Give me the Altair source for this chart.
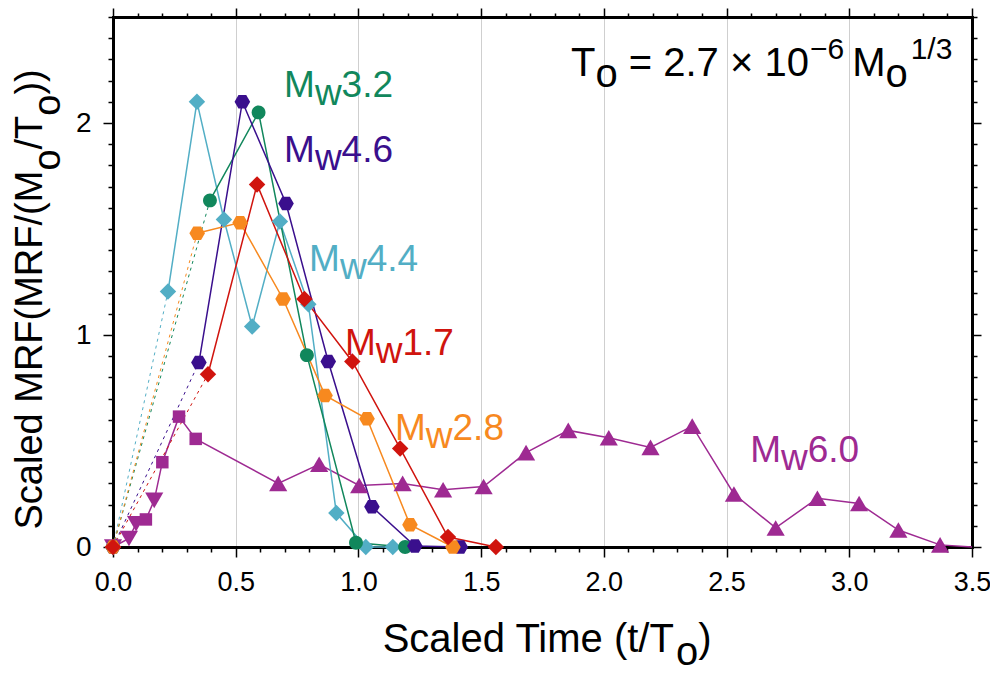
import altair as alt
import pandas as pd

FONT = "Liberation Sans"

# ---------------- data ----------------
series_names = ["Mw6.0", "Mw4.4", "Mw3.2", "Mw4.6", "Mw2.8", "Mw1.7"]
label_numbers = ["6.0", "4.4", "3.2", "4.6", "2.8", "1.7"]
series_colors = ["#9E2A92", "#52AEC5", "#11875C", "#3A0F8D", "#F7891F", "#D0140E"]
dashed_start = ["Mw4.4", "Mw3.2", "Mw4.6", "Mw2.8", "Mw1.7"]

t_mw32 = [0.0, 0.395, 0.593, 0.79, 0.99, 1.19]
v_mw32 = [0.0, 1.635, 2.05, 0.905, 0.02, 0.0]

t_mw46 = [0.0, 0.35, 0.527, 0.705, 0.877, 1.055, 1.23, 1.415]
v_mw46 = [0.0, 0.87, 2.10, 1.62, 0.875, 0.19, 0.005, 0.0]

t_mw44 = [0.0, 0.224, 0.342, 0.452, 0.567, 0.68, 0.796, 0.91, 1.03, 1.14]
v_mw44 = [0.0, 1.205, 2.10, 1.545, 1.04, 1.535, 1.145, 0.16, 0.0, 0.0]

t_mw17 = [0.0, 0.387, 0.587, 0.78, 0.975, 1.17, 1.365, 1.56]
v_mw17 = [0.0, 0.815, 1.71, 1.17, 0.875, 0.465, 0.047, 0.0]

t_mw28 = [0.0, 0.343, 0.518, 0.693, 0.864, 1.035, 1.21, 1.385]
v_mw28 = [0.0, 1.48, 1.53, 1.17, 0.715, 0.605, 0.105, 0.0]

t_mw60 = [0.0, 0.065, 0.094, 0.134, 0.168, 0.201, 0.269, 0.337, 0.673, 0.84,
          1.003, 1.18, 1.345, 1.51, 1.683, 1.855, 2.02, 2.19, 2.36, 2.53,
          2.70, 2.87, 3.04, 3.20, 3.37, 3.5]
v_mw60 = [0.0, 0.04, 0.11, 0.13, 0.22, 0.40, 0.615, 0.51, 0.30, 0.39,
          0.29, 0.30, 0.27, 0.285, 0.445, 0.55, 0.515, 0.47, 0.57, 0.25,
          0.09, 0.23, 0.205, 0.08, 0.01, 0.0]
m_mw60 = ["tri_down", "tri_down", "tri_down", "square", "tri_down", "square",
          "square", "square"] + ["tri_up"] * 17 + ["none"]

# label anchors (data coordinates of the start of each "Mw" label)
label_t = [2.596, 0.799, 0.697, 0.697, 1.149, 0.945]
label_v = [0.402, 1.30, 2.123, 1.816, 0.506, 0.908]

# ---------------- assemble tables ----------------
series_t = {"Mw6.0": t_mw60, "Mw4.4": t_mw44, "Mw3.2": t_mw32,
            "Mw4.6": t_mw46, "Mw2.8": t_mw28, "Mw1.7": t_mw17}
series_v = {"Mw6.0": v_mw60, "Mw4.4": v_mw44, "Mw3.2": v_mw32,
            "Mw4.6": v_mw46, "Mw2.8": v_mw28, "Mw1.7": v_mw17}
series_marker = {"Mw4.4": "diamond", "Mw3.2": "circle", "Mw4.6": "hexagon",
                 "Mw2.8": "hexagon", "Mw1.7": "diamond"}

rows = []
for s in series_names:
    for i, (t, v) in enumerate(zip(series_t[s], series_v[s])):
        mk = m_mw60[i] if s == "Mw6.0" else series_marker[s]
        rows.append(dict(series=s, idx=i, t=t, v=v, marker=mk))
df = pd.DataFrame(rows)
solid_df = df[~(df.series.isin(dashed_start) & (df.idx == 0))]
dash_df = df[df.series.isin(dashed_start) & (df.idx <= 1)]
pts_df = df[df.marker != "none"]

marker_names = ["circle", "hexagon", "diamond", "square", "tri_up", "tri_down"]
marker_paths = [
    "M0.8,0A0.8,0.8,0,1,1,-0.8,0A0.8,0.8,0,1,1,0.8,0Z",
    "M-0.9,0L-0.45,-0.78L0.45,-0.78L0.9,0L0.45,0.78L-0.45,0.78Z",
    "M0,-0.95L0.95,0L0,0.95L-0.95,0Z",
    "M-0.72,-0.72L0.72,-0.72L0.72,0.72L-0.72,0.72Z",
    "M0,-0.9L1.05,0.9L-1.05,0.9Z",
    "M0,0.9L1.05,-0.9L-1.05,-0.9Z",
]

# ---------------- text width helper (Arial / Liberation metrics) ----------------
W = {' ': 278, '(': 333, ')': 333, '/': 278, '.': 278, '=': 584, '×': 584, '−': 584,
     'S': 667, 'T': 611, 'M': 833, 'R': 722, 'F': 611, 'c': 500, 'a': 556, 'l': 222,
     'e': 556, 'd': 556, 'i': 222, 'm': 833, 't': 278, 'o': 556, 'w': 722}
for ch in "0123456789":
    W[ch] = 556


def tw(s, size):
    return sum(W.get(c, 556) for c in s) * size / 1000.0


# ---------------- scales & axes ----------------
xs = alt.Scale(domain=[0, 3.5], nice=False, zero=False)
ys = alt.Scale(domain=[0, 2.5], nice=False, zero=False)
cs = alt.Scale(domain=series_names, range=series_colors)

xticks = [round(i * 0.1, 1) for i in range(36)]
yticks = [round(i * 0.1, 1) for i in range(26)]
major_x = "abs(datum.value*2 - round(datum.value*2)) < 0.001"
major_y = "abs(datum.value - round(datum.value)) < 0.001"

common_axis = dict(domainColor="black", domainWidth=3, domainCap="square",
                   tickColor="black", tickWidth=1.5, title=None,
                   labelOverlap=False, labelFlush=False)

x_bottom = alt.Axis(orient="bottom", values=xticks,
                    labelExpr=f"{major_x} ? format(datum.value, '.1f') : ''",
                    tickSize={"condition": {"test": major_x, "value": 10}, "value": 5},
                    grid=True, gridColor="#cfcfcf", gridWidth=1,
                    gridOpacity={"condition": {"test": major_x, "value": 1}, "value": 0},
                    labelFont=FONT, labelFontSize=27, labelColor="black",
                    labelPadding=12, **common_axis)
y_left = alt.Axis(orient="left", values=yticks,
                  labelExpr=f"{major_y} ? format(datum.value, 'd') : ''",
                  tickSize={"condition": {"test": major_y, "value": 10}, "value": 5},
                  grid=False, labelFont=FONT, labelFontSize=28, labelColor="black",
                  labelPadding=12, **common_axis)
x_top = alt.Axis(orient="top", values=xticks, labels=False, grid=False,
                 tickSize={"condition": {"test": major_x, "value": 9}, "value": 4},
                 **common_axis)
y_right = alt.Axis(orient="right", values=yticks, labels=False, grid=False,
                   tickSize={"condition": {"test": major_y, "value": 9}, "value": 5},
                   **common_axis)

color_enc = alt.Color("series:N", scale=cs, legend=None)

solid = alt.Chart(solid_df).mark_line(strokeWidth=1.5).encode(
    x=alt.X("t:Q", scale=xs, axis=x_bottom),
    y=alt.Y("v:Q", scale=ys, axis=y_left),
    color=color_enc,
    order=alt.Order("idx:Q"),
)

dashed = alt.Chart(dash_df).mark_line(strokeWidth=1, strokeDash=[3, 4]).encode(
    x=alt.X("t:Q", scale=xs, axis=None),
    y=alt.Y("v:Q", scale=ys, axis=None),
    color=color_enc,
    order=alt.Order("idx:Q"),
)

points = alt.Chart(pts_df).mark_point(filled=True, size=300, opacity=1, strokeWidth=0).encode(
    x=alt.X("t:Q", scale=xs, axis=x_top),
    y=alt.Y("v:Q", scale=ys, axis=y_right),
    color=color_enc,
    shape=alt.Shape("marker:N", scale=alt.Scale(domain=marker_names, range=marker_paths),
                    legend=None),
)

# ---------------- series labels  M_w<number> ----------------
lab_df = pd.DataFrame({"series": series_names, "t": label_t, "v": label_v,
                       "num": label_numbers})
LS = 37


def lab_layer(text, dx=0, dy=0):
    return alt.Chart(lab_df).mark_text(align="left", baseline="alphabetic", font=FONT,
                                       fontSize=LS, dx=dx, dy=dy).encode(
        x=alt.X("t:Q", scale=xs, axis=None),
        y=alt.Y("v:Q", scale=ys, axis=None),
        color=color_enc,
        text=text,
    )


labels = [
    lab_layer(alt.value("M")),
    lab_layer(alt.value("w"), dx=tw("M", LS), dy=8),
    lab_layer(alt.Text("num:N"), dx=tw("M", LS) + tw("w", LS)),
]

# ---------------- formula  T_o = 2.7 x 10^-6 M_o^(1/3) ----------------
form_df = pd.DataFrame({"t": [1.866], "v": [2.222]})
FS, SS = 40, 30
# (text, font size, vertical shift, gap before in px)
form_pieces = [("T", FS, 0, 0), ("o", FS, 11, 0), ("= 2.7 × 10", FS, 0, tw(" ", FS)),
               ("−6", SS, -17, 1), ("M", FS, 0, 8), ("o", FS, 11, 0), ("1/3", SS, -17, 3)]
form_layers = []
off = 0.0
for txt, size, dy, gap in form_pieces:
    off += gap
    form_layers.append(
        alt.Chart(form_df).mark_text(align="left", baseline="alphabetic", font=FONT,
                                     fontSize=size, dx=off, dy=dy,
                                     color="black").encode(
            x=alt.X("t:Q", scale=xs, axis=None),
            y=alt.Y("v:Q", scale=ys, axis=None),
            text=alt.value(txt)))
    off += tw(txt, size)

# ---------------- axis titles with subscripts ----------------
TS = 40
xt_pieces = [("Scaled Time (t/T", 0), ("o", 13), (")", 0)]
xt_total = sum(tw(p, TS) for p, _ in xt_pieces)
xt_df = pd.DataFrame({"t": [1.769]})
xt_layers = []
off = -xt_total / 2
for txt, dy in xt_pieces:
    xt_layers.append(
        alt.Chart(xt_df).mark_text(align="left", baseline="alphabetic", font=FONT,
                                   fontSize=TS, dx=off, dy=dy, color="black").encode(
            x=alt.X("t:Q", scale=xs, axis=None),
            y=alt.value(635),
            text=alt.value(txt)))
    off += tw(txt, TS)

YS = 38
yt_pieces = [("Scaled MRF(MRF/(M", 0), ("o", 18), ("/T", 0), ("o", 18), ("))", 0)]
yt_total = sum(tw(p, YS) for p, _ in yt_pieces)
yt_df = pd.DataFrame({"v": [1.168]})
yt_layers = []
off = -yt_total / 2
for txt, dy in yt_pieces:
    yt_layers.append(
        alt.Chart(yt_df).mark_text(align="left", baseline="alphabetic", font=FONT,
                                   fontSize=YS, angle=270, dx=off, dy=dy,
                                   color="black").encode(
            x=alt.value(-71),
            y=alt.Y("v:Q", scale=ys, axis=None),
            text=alt.value(txt)))
    off += tw(txt, YS)

chart = alt.layer(
    solid, dashed, points, *labels, *form_layers, *xt_layers, *yt_layers
).resolve_axis(
    x="independent", y="independent"
).properties(
    width=859, height=530,
    padding={"left": 105, "top": 9, "right": 18, "bottom": 128},
    autosize=alt.AutoSizeParams(type="none"),
    background="white",
).configure_view(stroke=None)

chart.save("out.html", embed_options={"renderer": "svg", "actions": False})
